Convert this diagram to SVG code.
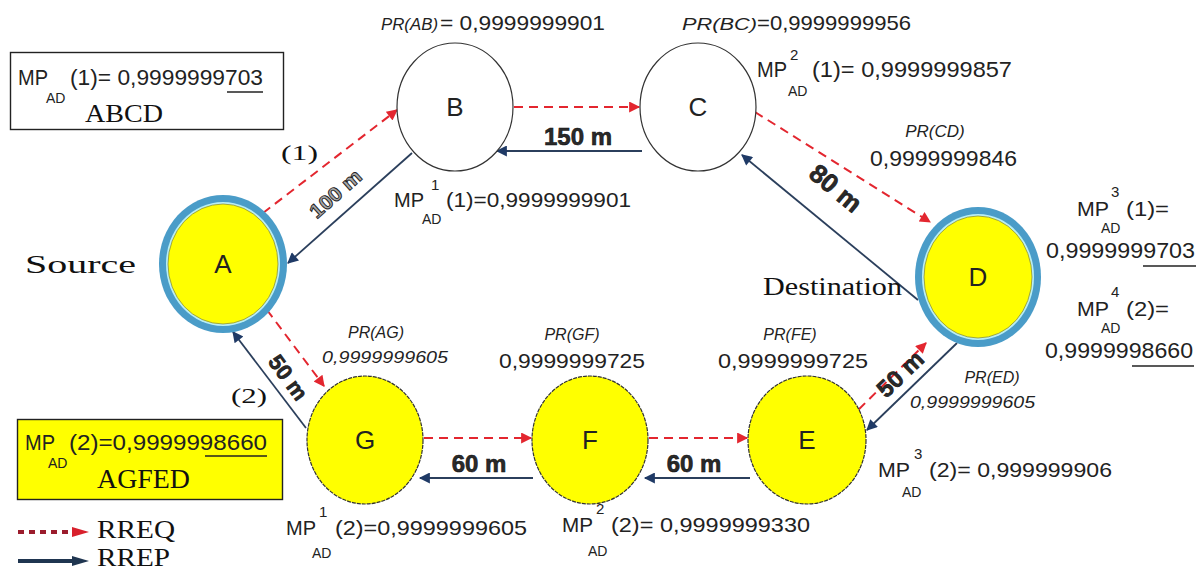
<svg xmlns="http://www.w3.org/2000/svg" width="1202" height="572" viewBox="0 0 1202 572">
<defs>
<style>
.s{font-family:"Liberation Sans",Arial,sans-serif;fill:#222}
.i{font-style:italic}
.r{font-family:"Liberation Serif","Times New Roman",serif;fill:#111}
.d{font-family:"Liberation Sans",Arial,sans-serif;font-weight:bold;fill:#2a2a2a;stroke:#111;stroke-width:0.6}
.req{stroke:#e3262f;stroke-width:2;stroke-dasharray:9,6;fill:none}
.rep{stroke:#2b3f5c;stroke-width:1.8;fill:none}
.wn{fill:#fff;stroke:#333;stroke-width:1.2}
.yn{fill:#ffff00;stroke:#333;stroke-width:1.2;stroke-dasharray:4,1}
.lbl{font-family:"Liberation Sans",Arial,sans-serif;font-size:26px;fill:#222;text-anchor:middle}
.ul{stroke:#222;stroke-width:1.4}
</style>
<marker id="mreq" viewBox="0 0 10 10" refX="9" refY="5" markerWidth="13" markerHeight="11" markerUnits="userSpaceOnUse" orient="auto"><path d="M0,0 L10,5 L0,10 z" fill="#e3262f"/></marker>
<marker id="mrep" viewBox="0 0 10 10" refX="9" refY="5" markerWidth="13" markerHeight="11" markerUnits="userSpaceOnUse" orient="auto"><path d="M0,0 L10,5 L0,10 z" fill="#1f3a66"/></marker>
</defs>
<rect width="1202" height="572" fill="#fff"/>

<g id="connectors">
<line class="req" x1="263" y1="213" x2="397" y2="110" marker-end="url(#mreq)"/>
<line class="rep" x1="412" y1="153" x2="288" y2="263" marker-end="url(#mrep)"/>
<line class="req" x1="514" y1="107" x2="639" y2="107" marker-end="url(#mreq)"/>
<line class="rep" x1="642" y1="151" x2="497" y2="151" marker-end="url(#mrep)"/>
<line class="req" x1="755" y1="112" x2="930" y2="222" marker-end="url(#mreq)"/>
<line class="rep" x1="918" y1="300" x2="742" y2="155" marker-end="url(#mrep)"/>
<line class="req" x1="267" y1="310" x2="324" y2="386" marker-end="url(#mreq)"/>
<line class="rep" x1="306" y1="428" x2="233" y2="332" marker-end="url(#mrep)"/>
<line class="req" x1="424" y1="438" x2="531" y2="438" marker-end="url(#mreq)"/>
<line class="rep" x1="533" y1="478" x2="420" y2="478" marker-end="url(#mrep)"/>
<line class="req" x1="649" y1="438" x2="747" y2="438" marker-end="url(#mreq)"/>
<line class="rep" x1="750" y1="478" x2="645" y2="478" marker-end="url(#mrep)"/>
<line class="req" x1="848" y1="420" x2="926" y2="343" marker-end="url(#mreq)"/>
<line class="rep" x1="957" y1="343" x2="867" y2="430" marker-end="url(#mrep)"/>
<text class="d" font-size="20" transform="translate(340,199) rotate(-41.6)" text-anchor="middle" textLength="62" lengthAdjust="spacingAndGlyphs" style="fill:#a8a8a8;stroke:#222;stroke-width:0.9">100 m</text>
<text class="d" font-size="24" x="578" y="145" text-anchor="middle">150 m</text>
<text class="d" font-size="26" transform="translate(830,195) rotate(39.5)" text-anchor="middle">80 m</text>
<text class="d" font-size="22" transform="translate(282,382) rotate(53.7)" text-anchor="middle">50 m</text>
<text class="d" font-size="24" transform="translate(906,380) rotate(-44)" text-anchor="middle">50 m</text>
<text class="d" font-size="24" x="479" y="472" text-anchor="middle">60 m</text>
<text class="d" font-size="24" x="694" y="472" text-anchor="middle">60 m</text>
</g>

<g id="node-A">
<ellipse cx="223" cy="264" rx="64" ry="69" fill="#4a9cc8"/>
<ellipse cx="223" cy="264" rx="57" ry="62" fill="#b8eef4"/>
<ellipse cx="223" cy="264" rx="55" ry="60" fill="#ffff00" stroke="#8a9240" stroke-width="0.8"/>
<text class="lbl" x="223" y="273">A</text>
</g>
<g id="node-B">
<ellipse class="wn" cx="455" cy="107" rx="58" ry="64"/>
<text class="lbl" x="455" y="116">B</text>
</g>
<g id="node-C">
<ellipse class="wn" cx="698" cy="107" rx="58" ry="64"/>
<text class="lbl" x="698" y="116">C</text>
</g>
<g id="node-D">
<ellipse cx="978" cy="277" rx="63" ry="70" fill="#4a9cc8"/>
<ellipse cx="978" cy="277" rx="56" ry="63" fill="#b8eef4"/>
<ellipse cx="978" cy="277" rx="54" ry="61" fill="#ffff00" stroke="#8a9240" stroke-width="0.8"/>
<text class="lbl" x="978" y="286">D</text>
</g>
<g id="node-G">
<ellipse class="yn" cx="365" cy="440" rx="58" ry="64"/>
<text class="lbl" x="365" y="449">G</text>
</g>
<g id="node-F">
<ellipse class="yn" cx="590" cy="440" rx="58" ry="64"/>
<text class="lbl" x="590" y="449">F</text>
</g>
<g id="node-E">
<ellipse class="yn" cx="807" cy="440" rx="59" ry="64"/>
<text class="lbl" x="807" y="449">E</text>
</g>

<g id="labels">
<text class="s i" font-size="16" x="381" y="30" textLength="57" lengthAdjust="spacingAndGlyphs">PR(AB)</text>
<text class="s" font-size="21" x="440" y="30" textLength="165" lengthAdjust="spacingAndGlyphs">= 0,9999999901</text>
<text class="s i" font-size="16" x="682" y="30" textLength="75" lengthAdjust="spacingAndGlyphs">PR(BC)</text>
<text class="s" font-size="21" x="757" y="30" textLength="154" lengthAdjust="spacingAndGlyphs">=0,9999999956</text>

<text class="s" font-size="22" x="757" y="77" textLength="30" lengthAdjust="spacingAndGlyphs">MP</text>
<text class="s" font-size="15" x="790" y="60">2</text>
<text class="s" font-size="14" x="788" y="96">AD</text>
<text class="s" font-size="22" x="812" y="77" textLength="200" lengthAdjust="spacingAndGlyphs">(1)= 0,9999999857</text>

<text class="s i" font-size="17" x="935" y="137" text-anchor="middle">PR(CD)</text>
<text class="s" font-size="22" x="870" y="166" textLength="147" lengthAdjust="spacingAndGlyphs">0,9999999846</text>

<text class="s" font-size="21" x="394" y="207" textLength="30" lengthAdjust="spacingAndGlyphs">MP</text>
<text class="s" font-size="15" x="431" y="190">1</text>
<text class="s" font-size="14" x="422" y="224">AD</text>
<text class="s" font-size="21" x="446" y="207" textLength="185" lengthAdjust="spacingAndGlyphs">(1)=0,9999999901</text>

<text class="r" font-size="22" x="281" y="160" textLength="37" lengthAdjust="spacingAndGlyphs">(1)</text>
<text class="r" font-size="26" x="25" y="273" textLength="111" lengthAdjust="spacingAndGlyphs">Source</text>
<text class="r" font-size="26" x="763" y="295" textLength="139" lengthAdjust="spacingAndGlyphs">Destination</text>

<text class="s" font-size="21" x="1077" y="216" textLength="32" lengthAdjust="spacingAndGlyphs">MP</text>
<text class="s" font-size="15" x="1111" y="197">3</text>
<text class="s" font-size="14" x="1101" y="233">AD</text>
<text class="s" font-size="21" x="1126" y="216" textLength="43" lengthAdjust="spacingAndGlyphs">(1)=</text>
<text class="s" font-size="22" x="1046" y="258" textLength="149" lengthAdjust="spacingAndGlyphs">0,9999999703</text>
<line class="ul" x1="1143" y1="266" x2="1196" y2="266"/>

<text class="s" font-size="21" x="1077" y="316" textLength="32" lengthAdjust="spacingAndGlyphs">MP</text>
<text class="s" font-size="15" x="1111" y="297">4</text>
<text class="s" font-size="14" x="1101" y="333">AD</text>
<text class="s" font-size="21" x="1126" y="316" textLength="43" lengthAdjust="spacingAndGlyphs">(2)=</text>
<text class="s" font-size="22" x="1045" y="358" textLength="148" lengthAdjust="spacingAndGlyphs">0,9999998660</text>
<line class="ul" x1="1132" y1="366" x2="1194" y2="366"/>

<text class="s i" font-size="16" x="376" y="338" text-anchor="middle">PR(AG)</text>
<text class="s i" font-size="16" x="322" y="363" textLength="126" lengthAdjust="spacingAndGlyphs">0,9999999605</text>
<text class="s i" font-size="16" x="572" y="340" text-anchor="middle">PR(GF)</text>
<text class="s" font-size="21" x="499" y="368" textLength="146" lengthAdjust="spacingAndGlyphs">0,9999999725</text>
<text class="s i" font-size="16" x="790" y="340" text-anchor="middle">PR(FE)</text>
<text class="s" font-size="21" x="718" y="368" textLength="150" lengthAdjust="spacingAndGlyphs">0,9999999725</text>
<text class="s i" font-size="16" x="992" y="383" text-anchor="middle">PR(ED)</text>
<text class="s i" font-size="16" x="910" y="408" textLength="125" lengthAdjust="spacingAndGlyphs">0,9999999605</text>

<text class="r" font-size="22" x="231" y="403" textLength="36" lengthAdjust="spacingAndGlyphs">(2)</text>

<text class="s" font-size="21" x="286" y="535" textLength="30" lengthAdjust="spacingAndGlyphs">MP</text>
<text class="s" font-size="15" x="319" y="517">1</text>
<text class="s" font-size="14" x="312" y="558">AD</text>
<text class="s" font-size="21" x="335" y="535" textLength="192" lengthAdjust="spacingAndGlyphs">(2)=0,9999999605</text>

<text class="s" font-size="21" x="562" y="532" textLength="31" lengthAdjust="spacingAndGlyphs">MP</text>
<text class="s" font-size="15" x="596" y="514">2</text>
<text class="s" font-size="14" x="588" y="556">AD</text>
<text class="s" font-size="21" x="611" y="532" textLength="199" lengthAdjust="spacingAndGlyphs">(2)= 0,9999999330</text>

<text class="s" font-size="21" x="878" y="477" textLength="32" lengthAdjust="spacingAndGlyphs">MP</text>
<text class="s" font-size="15" x="914" y="459">3</text>
<text class="s" font-size="14" x="902" y="497">AD</text>
<text class="s" font-size="21" x="929" y="477" textLength="183" lengthAdjust="spacingAndGlyphs">(2)= 0,999999906</text>
</g>

<g id="box-ABCD">
<rect x="10.5" y="52.5" width="273" height="77" fill="#fff" stroke="#222" stroke-width="1.4"/>
<text class="s" font-size="22" x="18" y="85" textLength="30" lengthAdjust="spacingAndGlyphs">MP</text>
<text class="s" font-size="14" x="46" y="103">AD</text>
<text class="s" font-size="22" x="70" y="85" textLength="193" lengthAdjust="spacingAndGlyphs">(1)= 0,9999999703</text>
<line class="ul" x1="227" y1="92" x2="263" y2="92"/>
<text class="r" font-size="26" x="85" y="122" textLength="78" lengthAdjust="spacingAndGlyphs">ABCD</text>
</g>

<g id="box-AGFED">
<rect x="17.5" y="419.5" width="265" height="80" fill="#ffff00" stroke="#222" stroke-width="1.4"/>
<text class="s" font-size="22" x="25" y="450" textLength="30" lengthAdjust="spacingAndGlyphs">MP</text>
<text class="s" font-size="14" x="48" y="468">AD</text>
<text class="s" font-size="22" x="69" y="450" textLength="198" lengthAdjust="spacingAndGlyphs">(2)=0,9999998660</text>
<line class="ul" x1="205" y1="456" x2="267" y2="456"/>
<text class="r" font-size="28" x="97" y="488" textLength="93" lengthAdjust="spacingAndGlyphs">AGFED</text>
</g>

<g id="legend">
<line x1="18" y1="532" x2="78" y2="532" stroke="#9b1c2c" stroke-width="4" stroke-dasharray="6,5"/>
<path d="M72,527 L89,532 L72,537 z" fill="#d8202c"/>
<text class="r" font-size="26" x="97" y="538" textLength="78" lengthAdjust="spacingAndGlyphs">RREQ</text>
<line x1="18" y1="561" x2="78" y2="561" stroke="#1f3550" stroke-width="4"/>
<path d="M72,556 L89,561 L72,566 z" fill="#1f3550"/>
<text class="r" font-size="26" x="97" y="566" textLength="73" lengthAdjust="spacingAndGlyphs">RREP</text>
</g>
</svg>
